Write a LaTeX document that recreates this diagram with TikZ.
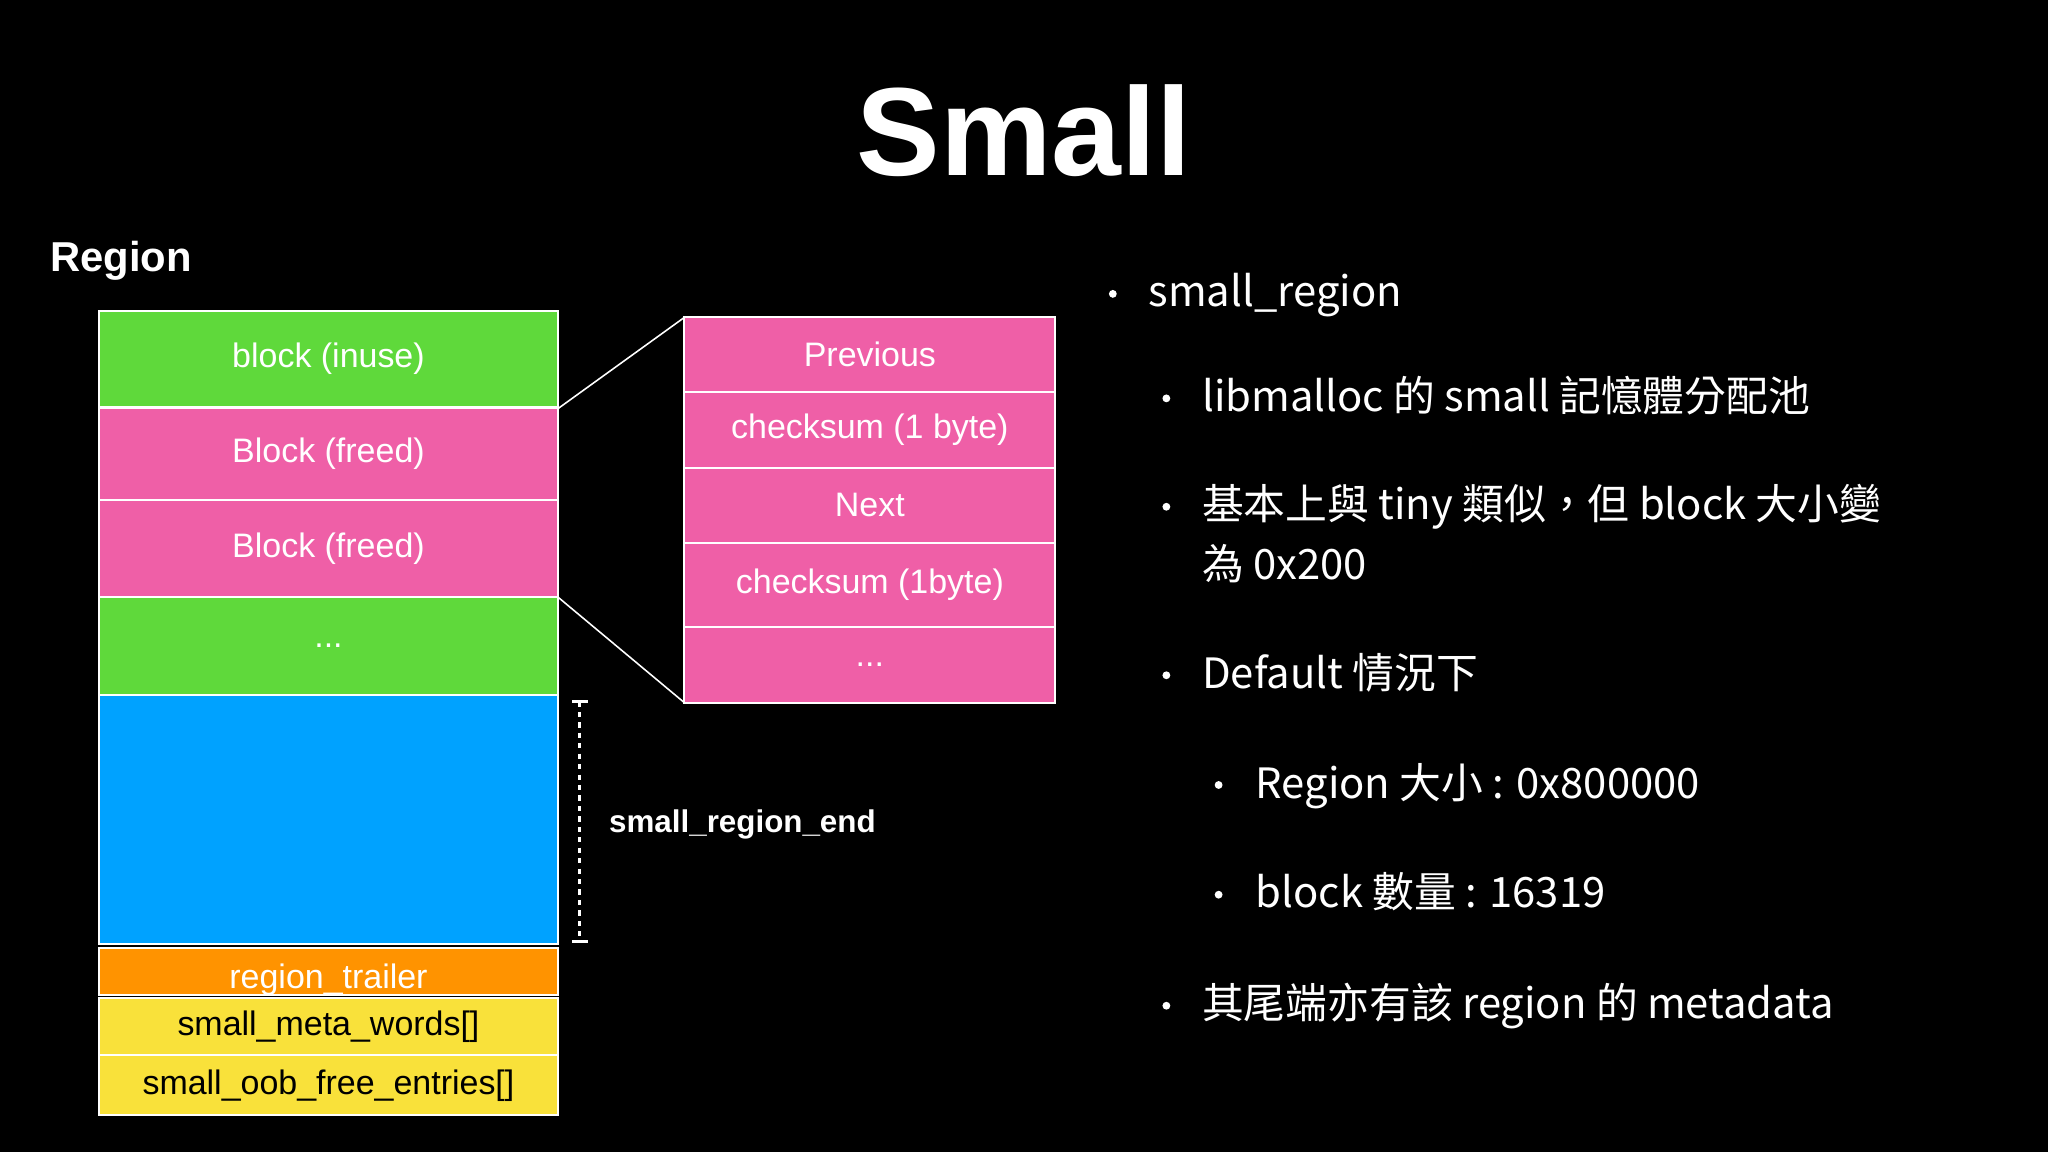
\documentclass[tikz,border=0pt]{standalone}
\usepackage{fontspec}
\setmainfont{Liberation Sans}
\newfontfamily\cjk{Noto Sans CJK TC}
\definecolor{grn}{HTML}{5FD93B}
\definecolor{pnk}{HTML}{EF5FA7}
\definecolor{blu}{HTML}{00A2FF}
\definecolor{org}{HTML}{FF9300}
\definecolor{ylw}{HTML}{F9E13A}
\begin{document}
\begin{tikzpicture}[x=0.5pt,y=-0.5pt,
  cell/.style={draw=white,line width=0.8pt,text=white,font=\fontsize{13}{15}\selectfont},
  bul/.style={anchor=base west,text=white,font=\cjk\fontsize{16}{20}\selectfont,inner sep=0pt},
  dot/.style={circle,fill=white,inner sep=0pt,minimum size=3pt}]
\fill[black] (0,0) rectangle (1568,882);
\useasboundingbox (0,0) rectangle (1568,882);
\node[text=white,font=\bfseries\fontsize{48}{50}\selectfont] (title) at (784,100) {Small};
\node[text=white,font=\bfseries\fontsize{16}{18}\selectfont,anchor=west,inner sep=0pt] (reg) at (38,200) {Region};
% left column
\path[cell,fill=grn] (76,238) rectangle (427,312) node[midway] (b1) {block (inuse)};
\path[cell,fill=pnk] (76,312) rectangle (427,383) node[midway] (b2) {Block (freed)};
\path[cell,fill=pnk] (76,383) rectangle (427,457) node[midway] (b3) {Block (freed)};
\path[cell,fill=grn] (76,457) rectangle (427,532) node[midway] (b4) {...};
\path[cell,fill=blu] (76,532) rectangle (427,723) node[midway] (b5) {};
\path[cell,fill=org] (76,726) rectangle (427,762) node[midway,yshift=-3pt] (b6) {region\_trailer};
\path[cell,fill=ylw,text=black] (76,764) rectangle (427,808) node[midway] (b7) {small\_meta\_words[]};
\path[cell,fill=ylw,text=black] (76,808) rectangle (427,854) node[midway] (b8) {small\_oob\_free\_entries[]};
% right column
\path[cell,fill=pnk] (524,243) rectangle (808,300) node[midway] (r1) {Previous};
\path[cell,fill=pnk] (524,300) rectangle (808,358) node[midway] (r2) {checksum (1 byte)};
\path[cell,fill=pnk] (524,358) rectangle (808,416) node[midway] (r3) {Next};
\path[cell,fill=pnk] (524,416) rectangle (808,480) node[midway] (r4) {checksum (1byte)};
\path[cell,fill=pnk] (524,480) rectangle (808,538) node[midway] (r5) {...};
\coordinate (l1) at (427,313); \coordinate (l2) at (524,243);
\coordinate (l3) at (427,457); \coordinate (l4) at (524,538);
\draw[white,line width=0.6pt] (l1) -- (l2);
\draw[white,line width=0.6pt] (l3) -- (l4);
% dotted dimension
\coordinate (d1) at (444,537); \coordinate (d2) at (444,721);
\draw[white,line width=1.2pt,dash pattern=on 2pt off 2pt] (d1) -- (d2);
\draw[white,line width=1.2pt] (438,537) -- (450,537) (438,721) -- (450,721);
\node[text=white,font=\bfseries\fontsize{12}{14}\selectfont,anchor=west,inner sep=0pt] (sre) at (466,631) {small\_region\_end};
% bullets
\node[dot] at (852,225) {}; \node[bul] at (879,235) {small\_region};
\node[dot] at (893,305) {}; \node[bul] at (920,315) {libmalloc 的 small 記憶體分配池};
\node[dot] at (893,388) {}; \node[bul] at (920,398) {基本上與 tiny 類似，但 block 大小變};
\node[bul] at (920,444) {為 0x200};
\node[dot] at (893,517) {}; \node[bul] at (920,527) {Default 情況下};
\node[dot] at (933,601) {}; \node[bul] at (961,611) {Region 大小 : 0x800000};
\node[dot] at (933,685) {}; \node[bul] at (961,695) {block 數量 : 16319};
\node[dot] at (893,770) {}; \node[bul] at (920,780) {其尾端亦有該 region 的 metadata};
\end{tikzpicture}
\end{document}
